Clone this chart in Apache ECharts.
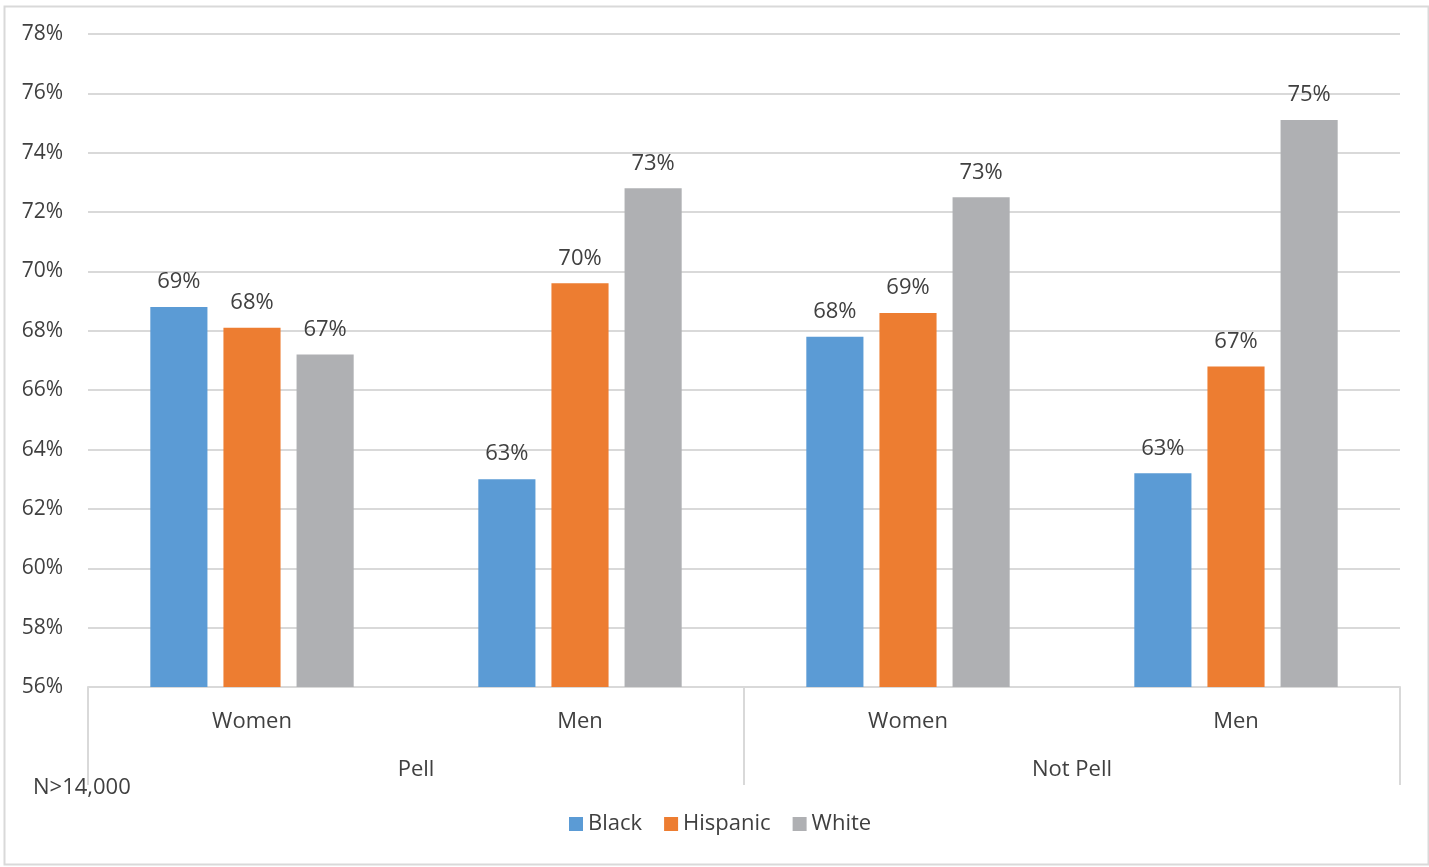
<!DOCTYPE html>
<html>
<head>
<meta charset="utf-8">
<script src="https://cdn.jsdelivr.net/npm/echarts@6/dist/echarts.min.js"></script>
<style>
html,body{margin:0;padding:0;background:#fff;}
#c{width:1429px;height:867px;}
</style>
</head>
<body>
<div id="c"></div>
<script>
const subCategories = ['Women', 'Men', 'Women', 'Men'];
const groupCategories = ['Pell', 'Not Pell'];
const seriesNames = ['Black', 'Hispanic', 'White'];
const black = [68.8, 63.0, 67.8, 63.2];
const hispanic = [68.1, 69.6, 68.6, 66.8];
const white = [67.2, 72.8, 72.5, 75.1];
const yTicks = [56, 58, 60, 62, 64, 66, 68, 70, 72, 74, 76, 78];
const note = 'N>14,000';

const colors = ['#5B9BD5', '#ED7D31', '#AFB0B3'];
const font = '"Open Sans", "Liberation Sans", sans-serif';
const textColor = '#404040';
const fs = 22;

const chart = echarts.init(document.getElementById('c'));
const mk = (name, data, i) => ({
  name, type: 'bar', data, xAxisIndex: 0,
  barGap: '28%', barCategoryGap: '38%',
  itemStyle: { color: colors[i] },
  label: {
    show: true, position: 'top', distance: 14,
    color: textColor, fontFamily: font, fontSize: fs,
    formatter: p => Math.round(p.value) + '%'
  }
});
chart.setOption({
  animation: false,
  textStyle: { fontFamily: font },
  grid: { left: 88, right: 29, top: 34, bottom: 180 },
  xAxis: [
    {
      type: 'category', data: subCategories, position: 'bottom',
      axisLine: { lineStyle: { color: '#d9d9d9', width: 2 } },
      axisTick: { show: false },
      axisLabel: { color: textColor, fontSize: fs, fontFamily: font, margin: 24 }
    },
    {
      type: 'category', data: groupCategories, position: 'bottom', offset: 98,
      axisLine: { show: false },
      axisTick: { show: true, inside: true, length: 98, lineStyle: { color: '#d9d9d9', width: 2 } },
      axisLabel: { inside: true, color: textColor, fontSize: fs, fontFamily: font, margin: 15, verticalAlign: 'middle' }
    }
  ],
  yAxis: {
    type: 'value', min: yTicks[0], max: yTicks[yTicks.length - 1], interval: 2,
    axisLine: { show: false }, axisTick: { show: false },
    splitLine: { lineStyle: { color: '#d9d9d9', width: 2 } },
    axisLabel: { color: textColor, fontSize: 21, fontFamily: font, margin: 25, formatter: v => v + '%' }
  },
  legend: {
    bottom: 27, left: 564, itemWidth: 14, itemHeight: 14, itemGap: 22,
    icon: 'rect',
    textStyle: { color: textColor, fontSize: fs, fontFamily: font },
    data: seriesNames
  },
  graphic: [
    { type: 'rect', left: 2, top: 4, shape: { width: 1424, height: 858 }, style: { fill: 'none', stroke: '#d9d9d9', lineWidth: 2 }, silent: true },
    { type: 'text', left: 33, top: 777, style: { text: note, fill: textColor, fontSize: fs, fontFamily: font } }
  ],
  series: [mk(seriesNames[0], black, 0), mk(seriesNames[1], hispanic, 1), mk(seriesNames[2], white, 2)]
});
</script>
</body>
</html>
